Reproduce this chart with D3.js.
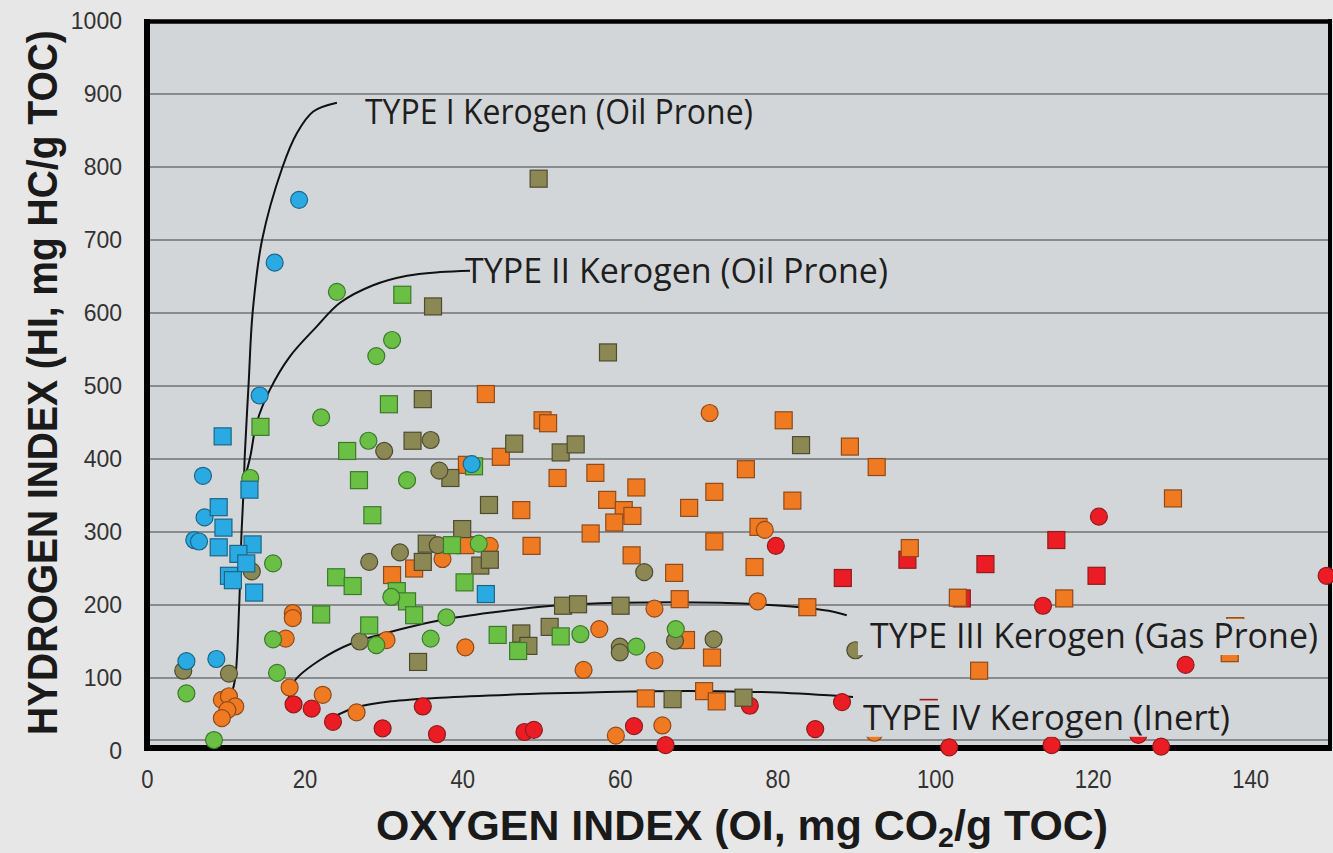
<!DOCTYPE html>
<html>
<head>
<meta charset="utf-8">
<script src="https://cdn.jsdelivr.net/npm/d3@7"></script>
<style>
  html, body { margin: 0; padding: 0; background: #e7e7e7; }
  svg { display: block; }
</style>
</head>
<body>
<svg width="1333" height="853"></svg>
<script>
// ---- data (OI, HI) ----
var xTicks = [0, 20, 40, 60, 80, 100, 120, 140];
var yTicks = [0, 100, 200, 300, 400, 500, 600, 700, 800, 900, 1000];

var redSquares = [[96.5,262],[106.4,256],[88.3,237],[103.4,209],[115.4,289],[120.5,240],[99.2,59]];
var redCircles = [[79.8,281],[76.5,62],[88.2,67],[84.8,30],[101.8,5],[120.8,321],[113.7,199],[149.7,240],
  [131.8,118],[114.8,8],[125.8,22],[128.7,6],[35.0,61],[36.8,23],[47.9,26],[49.1,29],[61.8,34],[65.8,8],
  [18.6,64],[20.9,58],[23.6,40],[29.9,31]];
var orangeSquares = [[43.0,489],[50.2,453],[50.9,449],[44.9,403],[52.1,374],[56.9,381],[62.1,361],[72.0,355],
  [58.4,344],[40.6,392],[31.1,241],[33.9,250],[47.5,330],[60.5,330],[61.6,322],[59.3,313],[68.8,333],[56.3,298],
  [48.8,281],[40.4,282],[72.0,287],[61.5,268],[66.9,244],[67.6,208],[68.4,152],[71.7,128],[63.3,72],[70.7,82],
  [72.3,68],[80.8,453],[89.2,417],[76.0,386],[92.6,389],[81.9,343],[77.6,307],[96.8,278],[77.1,252],[83.8,197],
  [102.9,210],[105.6,110],[130.2,346],[116.4,209],[137.4,134],[138.1,171]];
var orangeCircles = [[71.4,463],[78.4,303],[77.5,205],[37.5,263],[43.5,281],[18.5,189],[18.5,182],[17.6,154],
  [30.4,152],[18.1,87],[22.3,77],[26.6,53],[9.5,70],[10.4,75],[11.2,61],[10.2,56],[9.5,45],[40.4,142],
  [57.4,167],[55.4,111],[64.4,195],[64.4,124],[59.5,21],[65.4,35],[92.3,25]];
var oliveSquares = [[49.7,784],[36.3,609],[35.0,482],[33.7,425],[58.5,546],[38.5,374],[46.6,421],[52.5,409],
  [54.4,420],[43.4,337],[35.5,284],[35.0,259],[34.4,122],[40.0,304],[42.3,254],[43.5,262],[52.8,199],[54.7,201],
  [60.1,199],[47.5,161],[51.1,170],[48.4,144],[66.7,71],[83.0,419],[75.7,73]];
var oliveCircles = [[30.1,411],[36.0,426],[37.1,384],[13.3,246],[32.1,272],[28.2,259],[36.9,282],[27.0,150],
  [10.4,106],[4.6,110],[63.1,245],[60.0,143],[60.0,135],[67.0,151],[71.9,153],[89.9,138]];
var greenSquares = [[32.4,625],[14.4,444],[30.7,475],[25.4,411],[26.9,371],[28.6,323],[24.0,238],[26.1,226],
  [31.7,219],[33.0,205],[33.9,186],[22.1,187],[28.2,172],[38.7,282],[40.3,231],[44.5,159],[47.1,137],[52.5,157],
  [41.5,390]];
var greenCircles = [[24.1,629],[31.1,563],[29.1,541],[22.1,457],[28.1,425],[33.0,371],[13.1,374],[16.0,257],
  [31.0,211],[16.0,153],[29.1,145],[36.0,154],[16.5,107],[5.0,79],[8.5,15],[42.1,284],[38.0,183],[55.0,160],
  [62.1,143],[67.1,167]];
var blueCircles = [[19.3,755],[16.2,669],[14.3,487],[41.2,393],[7.1,377],[7.3,320],[6.0,289],[6.6,287],[5.0,123],[8.8,126]];
var blueSquares = [[9.6,431],[13.0,358],[9.1,334],[9.7,306],[9.1,279],[13.4,283],[11.6,270],[12.6,257],
  [10.4,240],[10.9,234],[13.6,217],[43.0,215]];

// kerogen type boundary curves
var typeI = [[10.75,79],[11.2,100],[11.7,200],[12.0,300],[12.3,367],[12.4,403],[12.9,504],[13.4,600],[14.6,700],[17.2,800],[19.0,846],[21.1,876],[24.1,888]];
var typeII = [[12.2,365],[13.1,403],[13.9,449],[15.6,495],[18.1,540],[21.5,581],[24.5,614],[28.7,638],[33,651],[37.2,656],[41,658]];
var typeIII = [[17.8,62],[18.2,82],[18.8,97],[22,125],[26.1,148],[30.5,162],[37.2,179],[44,190],[51.5,199],[60,203],[72.7,203],[82.9,197],[86.5,192],[88.8,186]];
var typeIV = [[24.1,49],[26.6,60],[31,68],[37.2,73],[51.5,79],[64.2,82],[72.7,82],[80,80],[89.6,74]];
var extraLine = [15];

var svg = d3.select("svg");
var x = d3.scaleLinear().domain([0, 150]).range([147, 1329]);
var y = d3.scaleLinear().domain([0, 1000]).range([751, 21]);

// plot background
svg.append("rect")
  .attr("x", x(0)).attr("y", y(1000))
  .attr("width", x(150) - x(0)).attr("height", y(0) - y(1000))
  .attr("fill", "#d3d6d9");

// gridlines
svg.selectAll(".grid")
  .data(yTicks.slice(1).concat(extraLine))
  .enter().append("line")
  .attr("class", "grid")
  .attr("x1", x(0)).attr("x2", x(150))
  .attr("y1", function(d) { return y(d); })
  .attr("y2", function(d) { return y(d); })
  .attr("stroke", "#8a8b8d")
  .attr("stroke-width", 2);

// curves
var line = d3.line()
  .x(function(d) { return x(d[0]); })
  .y(function(d) { return y(d[1]); })
  .curve(d3.curveCatmullRom.alpha(0.5));

[typeI, typeII, typeIII, typeIV].forEach(function(c) {
  svg.append("path")
    .attr("d", line(c))
    .attr("fill", "none")
    .attr("stroke", "#111")
    .attr("stroke-width", 2);
});

// frame
var frame = svg.append("g").attr("stroke", "#000");
frame.append("line").attr("x1", 147).attr("x2", 147).attr("y1", 19).attr("y2", 751).attr("stroke-width", 6);
frame.append("line").attr("x1", 144).attr("x2", 1332).attr("y1", 748).attr("y2", 748).attr("stroke-width", 6);
frame.append("line").attr("x1", 144).attr("x2", 1332).attr("y1", 21.5).attr("y2", 21.5).attr("stroke-width", 4.5);
frame.append("line").attr("x1", 1330).attr("x2", 1330).attr("y1", 19).attr("y2", 751).attr("stroke-width", 4);

// points
var series = [
  { data: redSquares, shape: "square", fill: "#ec1c24", stroke: "#8e1d1d" },
  { data: redCircles, shape: "circle", fill: "#ec1c24", stroke: "#8e1d1d" },
  { data: orangeSquares, shape: "square", fill: "#f07a22", stroke: "#8f4a1a" },
  { data: orangeCircles, shape: "circle", fill: "#f07a22", stroke: "#8f4a1a" },
  { data: oliveSquares, shape: "square", fill: "#8c8853", stroke: "#4d4b30" },
  { data: oliveCircles, shape: "circle", fill: "#8c8853", stroke: "#4d4b30" },
  { data: greenSquares, shape: "square", fill: "#6abf45", stroke: "#3c7a2a" },
  { data: greenCircles, shape: "circle", fill: "#6abf45", stroke: "#3c7a2a" },
  { data: blueCircles, shape: "circle", fill: "#2aaae2", stroke: "#1b6688" },
  { data: blueSquares, shape: "square", fill: "#2aaae2", stroke: "#1b6688" }
];
var half = 8.5;
series.forEach(function(s) {
  var g = svg.append("g");
  if (s.shape == "square") {
    g.selectAll("rect").data(s.data).enter().append("rect")
      .attr("x", function(d) { return x(d[0]) - half; })
      .attr("y", function(d) { return y(d[1]) - half; })
      .attr("width", half * 2).attr("height", half * 2)
      .attr("fill", s.fill).attr("stroke", s.stroke).attr("stroke-width", 1.2);
  } else {
    g.selectAll("circle").data(s.data).enter().append("circle")
      .attr("cx", function(d) { return x(d[0]); })
      .attr("cy", function(d) { return y(d[1]); })
      .attr("r", half)
      .attr("fill", s.fill).attr("stroke", s.stroke).attr("stroke-width", 1.2);
  }
});

// kerogen labels (III and IV sit on boxes that hide points beneath)
var labelFont = "'Open Sans', 'Noto Sans', sans-serif";
var labels = [
  { text: "TYPE I Kerogen (Oil Prone)", x: 365, y: 124, len: 388, box: null },
  { text: "TYPE II Kerogen (Oil Prone)", x: 465, y: 283, len: 423, box: null },
  { text: "TYPE III Kerogen (Gas Prone)", x: 870, y: 648, len: 448, box: [858, 619, 1325, 655] },
  { text: "TYPE IV Kerogen (Inert)", x: 863, y: 730, len: 367, box: [852, 700.5, 1242, 736.8] }
];
labels.forEach(function(l) {
  if (l.box) {
    svg.append("rect")
      .attr("x", l.box[0]).attr("y", l.box[1])
      .attr("width", l.box[2] - l.box[0]).attr("height", l.box[3] - l.box[1])
      .attr("fill", "#d3d6d9");
  }
  svg.append("text")
    .attr("x", l.x).attr("y", l.y)
    .attr("font-family", labelFont)
    .attr("font-size", 35)
    .attr("fill", "#1e1e1e")
    .attr("textLength", l.len)
    .attr("lengthAdjust", "spacingAndGlyphs")
    .text(l.text);
});

// axes
var yAxis = d3.axisLeft(y).tickValues(yTicks).tickFormat(d3.format("d")).tickSize(0).tickPadding(25);
var gy = svg.append("g").attr("transform", "translate(147,0)").call(yAxis);
gy.select(".domain").remove();
gy.selectAll("text")
  .attr("font-family", "'Liberation Sans', Arial, sans-serif")
  .attr("font-size", 23)
  .attr("fill", "#333");

var xAxis = d3.axisBottom(x).tickValues(xTicks).tickSize(0).tickPadding(19);
var gx = svg.append("g").attr("transform", "translate(0,751)").call(xAxis);
gx.select(".domain").remove();
gx.selectAll("text")
  .attr("font-family", "'Liberation Sans Narrow', 'Arial Narrow', 'Liberation Sans', sans-serif")
  .attr("font-size", 26)
  .attr("transform", "scale(0.85,1)")
  .attr("fill", "#333");

// axis titles
var titleFont = "'Liberation Sans Narrow', 'Arial Narrow', 'Liberation Sans', sans-serif";
var xt = svg.append("text")
  .attr("x", 376).attr("y", 840)
  .attr("font-family", titleFont)
  .attr("font-weight", "bold")
  .attr("font-size", 42)
  .attr("fill", "#1a1a1a")
  .attr("textLength", 732)
  .attr("lengthAdjust", "spacingAndGlyphs");
xt.append("tspan").text("OXYGEN INDEX (OI, mg CO");
xt.append("tspan").attr("font-size", 28).attr("dy", 7).text("2");
xt.append("tspan").attr("dy", -7).text("/g TOC)");

// y title: squeeze to the wanted length with a scale, so its box stays true
var yt = svg.append("text")
  .attr("font-family", titleFont)
  .attr("font-weight", "bold")
  .attr("font-size", 42)
  .attr("fill", "#1a1a1a")
  .text("HYDROGEN INDEX (HI, mg HC/g TOC)");
var ytLen = yt.node().getComputedTextLength();
yt.attr("transform", "translate(57,735) rotate(-90) scale(" + (705 / ytLen) + ",1)");
</script>
</body>
</html>
